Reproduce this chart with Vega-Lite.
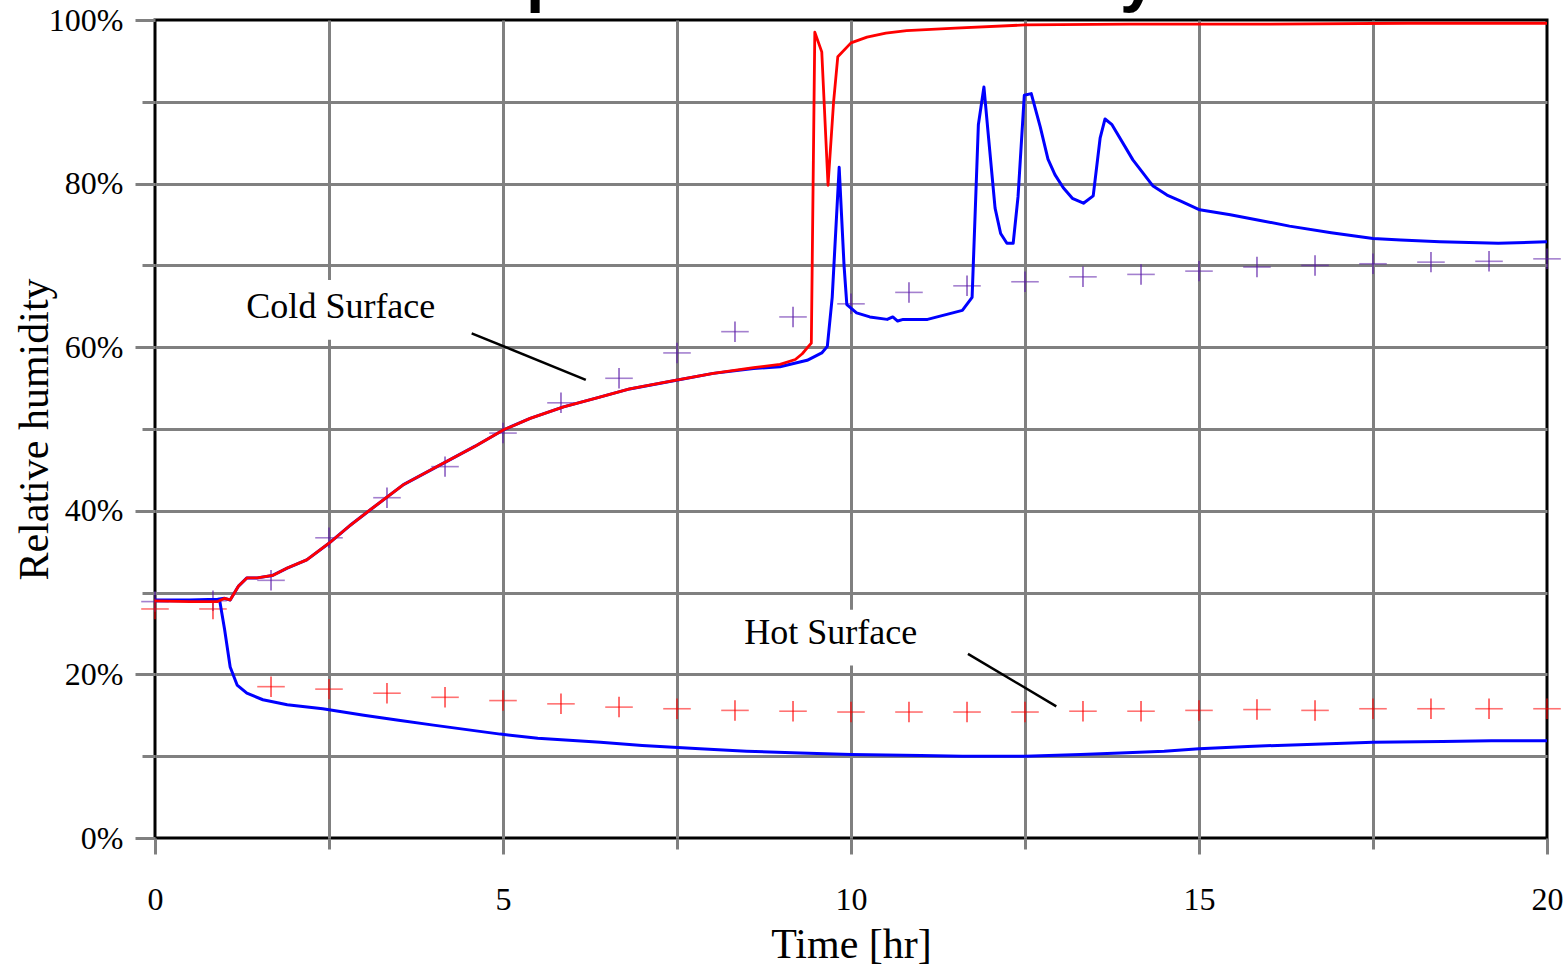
{
  "$schema": "https://vega.github.io/schema/vega-lite/v6.json",
  "autosize": {"type": "none"},
  "width": 1392,
  "height": 818,
  "padding": {"left": 155, "top": 20, "right": 17, "bottom": 129},
  "background": "white",
  "config": {
    "view": {"stroke": "black", "strokeWidth": 3},
    "axis": {
      "domain": false,
      "grid": true,
      "gridColor": "#808080",
      "gridWidth": 3,
      "tickColor": "#808080",
      "tickWidth": 3,
      "labelFlush": false,
      "labelFont": "Liberation Serif",
      "labelFontSize": 32,
      "labelColor": "black",
      "titleFont": "Liberation Serif",
      "titleFontSize": 42,
      "titleFontWeight": "normal",
      "titleColor": "black"
    }
  },
  "datasets": {
    "sim": [
      {"series": "Cold blue", "t": 0, "rh": 29.1}, {"series": "Cold blue", "t": 0.5, "rh": 29.1}, {"series": "Cold blue", "t": 0.9, "rh": 29.2}, {"series": "Cold blue", "t": 1.0, "rh": 29.3}, {"series": "Cold blue", "t": 1.08, "rh": 29.1}, {"series": "Cold blue", "t": 1.2, "rh": 30.8}, {"series": "Cold blue", "t": 1.32, "rh": 31.8}, {"series": "Cold blue", "t": 1.47, "rh": 31.8}, {"series": "Cold blue", "t": 1.69, "rh": 32.1}, {"series": "Cold blue", "t": 1.9, "rh": 33.0}, {"series": "Cold blue", "t": 2.18, "rh": 34.0}, {"series": "Cold blue", "t": 2.51, "rh": 36.1}, {"series": "Cold blue", "t": 2.8, "rh": 38.2}, {"series": "Cold blue", "t": 3.09, "rh": 40.1}, {"series": "Cold blue", "t": 3.57, "rh": 43.2}, {"series": "Cold blue", "t": 4.14, "rh": 45.8}, {"series": "Cold blue", "t": 4.6, "rh": 47.9}, {"series": "Cold blue", "t": 5.01, "rh": 49.9}, {"series": "Cold blue", "t": 5.39, "rh": 51.3}, {"series": "Cold blue", "t": 5.87, "rh": 52.7}, {"series": "Cold blue", "t": 6.35, "rh": 53.8}, {"series": "Cold blue", "t": 6.82, "rh": 54.9}, {"series": "Cold blue", "t": 7.51, "rh": 56.0}, {"series": "Cold blue", "t": 8.02, "rh": 56.8}, {"series": "Cold blue", "t": 8.6, "rh": 57.4}, {"series": "Cold blue", "t": 8.98, "rh": 57.6}, {"series": "Cold blue", "t": 9.37, "rh": 58.4}, {"series": "Cold blue", "t": 9.58, "rh": 59.3}, {"series": "Cold blue", "t": 9.66, "rh": 60.1}, {"series": "Cold blue", "t": 9.73, "rh": 66.1}, {"series": "Cold blue", "t": 9.83, "rh": 82.0}, {"series": "Cold blue", "t": 9.9, "rh": 70.0}, {"series": "Cold blue", "t": 9.94, "rh": 65.2}, {"series": "Cold blue", "t": 10.08, "rh": 64.2}, {"series": "Cold blue", "t": 10.27, "rh": 63.7}, {"series": "Cold blue", "t": 10.52, "rh": 63.4}, {"series": "Cold blue", "t": 10.6, "rh": 63.7}, {"series": "Cold blue", "t": 10.67, "rh": 63.2}, {"series": "Cold blue", "t": 10.75, "rh": 63.4}, {"series": "Cold blue", "t": 11.1, "rh": 63.4}, {"series": "Cold blue", "t": 11.6, "rh": 64.5}, {"series": "Cold blue", "t": 11.74, "rh": 66.1}, {"series": "Cold blue", "t": 11.83, "rh": 87.2}, {"series": "Cold blue", "t": 11.91, "rh": 91.8}, {"series": "Cold blue", "t": 11.97, "rh": 86.2}, {"series": "Cold blue", "t": 12.07, "rh": 77.0}, {"series": "Cold blue", "t": 12.15, "rh": 73.9}, {"series": "Cold blue", "t": 12.24, "rh": 72.7}, {"series": "Cold blue", "t": 12.33, "rh": 72.7}, {"series": "Cold blue", "t": 12.4, "rh": 78.4}, {"series": "Cold blue", "t": 12.49, "rh": 90.8}, {"series": "Cold blue", "t": 12.59, "rh": 91.0}, {"series": "Cold blue", "t": 12.72, "rh": 86.9}, {"series": "Cold blue", "t": 12.83, "rh": 83.0}, {"series": "Cold blue", "t": 12.93, "rh": 81.1}, {"series": "Cold blue", "t": 13.05, "rh": 79.5}, {"series": "Cold blue", "t": 13.18, "rh": 78.2}, {"series": "Cold blue", "t": 13.34, "rh": 77.6}, {"series": "Cold blue", "t": 13.48, "rh": 78.5}, {"series": "Cold blue", "t": 13.58, "rh": 85.6}, {"series": "Cold blue", "t": 13.65, "rh": 87.9}, {"series": "Cold blue", "t": 13.75, "rh": 87.2}, {"series": "Cold blue", "t": 14.05, "rh": 82.9}, {"series": "Cold blue", "t": 14.34, "rh": 79.7}, {"series": "Cold blue", "t": 14.54, "rh": 78.6}, {"series": "Cold blue", "t": 14.73, "rh": 77.9}, {"series": "Cold blue", "t": 15.01, "rh": 76.8}, {"series": "Cold blue", "t": 15.45, "rh": 76.2}, {"series": "Cold blue", "t": 15.88, "rh": 75.5}, {"series": "Cold blue", "t": 16.3, "rh": 74.8}, {"series": "Cold blue", "t": 16.9, "rh": 74.0}, {"series": "Cold blue", "t": 17.5, "rh": 73.3}, {"series": "Cold blue", "t": 17.9, "rh": 73.1}, {"series": "Cold blue", "t": 18.46, "rh": 72.9}, {"series": "Cold blue", "t": 19.3, "rh": 72.7}, {"series": "Cold blue", "t": 20, "rh": 72.9},
      {"series": "Hot blue", "t": 0, "rh": 29.0}, {"series": "Hot blue", "t": 0.5, "rh": 29.0}, {"series": "Hot blue", "t": 0.93, "rh": 29.0}, {"series": "Hot blue", "t": 1.0, "rh": 25.5}, {"series": "Hot blue", "t": 1.08, "rh": 20.9}, {"series": "Hot blue", "t": 1.18, "rh": 18.7}, {"series": "Hot blue", "t": 1.32, "rh": 17.7}, {"series": "Hot blue", "t": 1.55, "rh": 16.9}, {"series": "Hot blue", "t": 1.9, "rh": 16.3}, {"series": "Hot blue", "t": 2.41, "rh": 15.8}, {"series": "Hot blue", "t": 3.0, "rh": 15.0}, {"series": "Hot blue", "t": 3.5, "rh": 14.4}, {"series": "Hot blue", "t": 4.0, "rh": 13.8}, {"series": "Hot blue", "t": 4.96, "rh": 12.7}, {"series": "Hot blue", "t": 5.5, "rh": 12.2}, {"series": "Hot blue", "t": 6.4, "rh": 11.7}, {"series": "Hot blue", "t": 7.0, "rh": 11.3}, {"series": "Hot blue", "t": 7.83, "rh": 10.9}, {"series": "Hot blue", "t": 8.5, "rh": 10.6}, {"series": "Hot blue", "t": 9.27, "rh": 10.4}, {"series": "Hot blue", "t": 10, "rh": 10.2}, {"series": "Hot blue", "t": 11, "rh": 10.1}, {"series": "Hot blue", "t": 11.6, "rh": 10.0}, {"series": "Hot blue", "t": 12.5, "rh": 10.0}, {"series": "Hot blue", "t": 13.3, "rh": 10.2}, {"series": "Hot blue", "t": 13.87, "rh": 10.4}, {"series": "Hot blue", "t": 14.5, "rh": 10.6}, {"series": "Hot blue", "t": 15, "rh": 10.9}, {"series": "Hot blue", "t": 15.7, "rh": 11.2}, {"series": "Hot blue", "t": 16.45, "rh": 11.4}, {"series": "Hot blue", "t": 17.5, "rh": 11.7}, {"series": "Hot blue", "t": 18.5, "rh": 11.8}, {"series": "Hot blue", "t": 19.2, "rh": 11.9}, {"series": "Hot blue", "t": 20, "rh": 11.9},
      {"series": "Cold red", "t": 0, "rh": 29.0}, {"series": "Cold red", "t": 0.5, "rh": 28.9}, {"series": "Cold red", "t": 0.9, "rh": 28.9}, {"series": "Cold red", "t": 1.0, "rh": 29.3}, {"series": "Cold red", "t": 1.08, "rh": 29.1}, {"series": "Cold red", "t": 1.2, "rh": 30.8}, {"series": "Cold red", "t": 1.32, "rh": 31.8}, {"series": "Cold red", "t": 1.47, "rh": 31.8}, {"series": "Cold red", "t": 1.69, "rh": 32.1}, {"series": "Cold red", "t": 1.9, "rh": 33.0}, {"series": "Cold red", "t": 2.18, "rh": 34.0}, {"series": "Cold red", "t": 2.51, "rh": 36.1}, {"series": "Cold red", "t": 2.8, "rh": 38.2}, {"series": "Cold red", "t": 3.09, "rh": 40.1}, {"series": "Cold red", "t": 3.57, "rh": 43.2}, {"series": "Cold red", "t": 4.14, "rh": 45.8}, {"series": "Cold red", "t": 4.6, "rh": 47.9}, {"series": "Cold red", "t": 5.01, "rh": 49.9}, {"series": "Cold red", "t": 5.39, "rh": 51.3}, {"series": "Cold red", "t": 5.87, "rh": 52.7}, {"series": "Cold red", "t": 6.35, "rh": 53.8}, {"series": "Cold red", "t": 6.82, "rh": 54.9}, {"series": "Cold red", "t": 7.51, "rh": 56.0}, {"series": "Cold red", "t": 8.02, "rh": 56.8}, {"series": "Cold red", "t": 8.6, "rh": 57.5}, {"series": "Cold red", "t": 8.98, "rh": 57.9}, {"series": "Cold red", "t": 9.2, "rh": 58.5}, {"series": "Cold red", "t": 9.3, "rh": 59.2}, {"series": "Cold red", "t": 9.38, "rh": 60.0}, {"series": "Cold red", "t": 9.43, "rh": 60.5}, {"series": "Cold red", "t": 9.48, "rh": 98.5}, {"series": "Cold red", "t": 9.58, "rh": 96.1}, {"series": "Cold red", "t": 9.67, "rh": 79.8}, {"series": "Cold red", "t": 9.75, "rh": 90.0}, {"series": "Cold red", "t": 9.81, "rh": 95.5}, {"series": "Cold red", "t": 10.0, "rh": 97.2}, {"series": "Cold red", "t": 10.23, "rh": 97.9}, {"series": "Cold red", "t": 10.5, "rh": 98.4}, {"series": "Cold red", "t": 10.8, "rh": 98.7}, {"series": "Cold red", "t": 11.5, "rh": 99.0}, {"series": "Cold red", "t": 12.5, "rh": 99.4}, {"series": "Cold red", "t": 14, "rh": 99.5}, {"series": "Cold red", "t": 16, "rh": 99.5}, {"series": "Cold red", "t": 18, "rh": 99.6}, {"series": "Cold red", "t": 20, "rh": 99.6}
    ],
    "meas": [
      {"surface": "Cold", "t": 0, "rh": 28.9}, {"surface": "Cold", "t": 0.833, "rh": 29.0}, {"surface": "Cold", "t": 1.667, "rh": 31.5}, {"surface": "Cold", "t": 2.5, "rh": 36.7}, {"surface": "Cold", "t": 3.333, "rh": 41.6}, {"surface": "Cold", "t": 4.167, "rh": 45.4}, {"surface": "Cold", "t": 5.0, "rh": 49.5}, {"surface": "Cold", "t": 5.833, "rh": 53.2}, {"surface": "Cold", "t": 6.667, "rh": 56.2}, {"surface": "Cold", "t": 7.5, "rh": 59.3}, {"surface": "Cold", "t": 8.333, "rh": 61.9}, {"surface": "Cold", "t": 9.167, "rh": 63.7}, {"surface": "Cold", "t": 10.0, "rh": 65.3}, {"surface": "Cold", "t": 10.833, "rh": 66.7}, {"surface": "Cold", "t": 11.667, "rh": 67.5}, {"surface": "Cold", "t": 12.5, "rh": 68.0}, {"surface": "Cold", "t": 13.333, "rh": 68.6}, {"surface": "Cold", "t": 14.167, "rh": 68.9}, {"surface": "Cold", "t": 15.0, "rh": 69.3}, {"surface": "Cold", "t": 15.833, "rh": 69.8}, {"surface": "Cold", "t": 16.667, "rh": 70.0}, {"surface": "Cold", "t": 17.5, "rh": 70.2}, {"surface": "Cold", "t": 18.333, "rh": 70.4}, {"surface": "Cold", "t": 19.167, "rh": 70.5}, {"surface": "Cold", "t": 20.0, "rh": 70.8},
      {"surface": "Hot", "t": 0, "rh": 28.0}, {"surface": "Hot", "t": 0.833, "rh": 28.0}, {"surface": "Hot", "t": 1.667, "rh": 18.5}, {"surface": "Hot", "t": 2.5, "rh": 18.2}, {"surface": "Hot", "t": 3.333, "rh": 17.7}, {"surface": "Hot", "t": 4.167, "rh": 17.2}, {"surface": "Hot", "t": 5.0, "rh": 16.8}, {"surface": "Hot", "t": 5.833, "rh": 16.4}, {"surface": "Hot", "t": 6.667, "rh": 16.0}, {"surface": "Hot", "t": 7.5, "rh": 15.8}, {"surface": "Hot", "t": 8.333, "rh": 15.6}, {"surface": "Hot", "t": 9.167, "rh": 15.5}, {"surface": "Hot", "t": 10.0, "rh": 15.4}, {"surface": "Hot", "t": 10.833, "rh": 15.4}, {"surface": "Hot", "t": 11.667, "rh": 15.4}, {"surface": "Hot", "t": 12.5, "rh": 15.4}, {"surface": "Hot", "t": 13.333, "rh": 15.5}, {"surface": "Hot", "t": 14.167, "rh": 15.5}, {"surface": "Hot", "t": 15.0, "rh": 15.6}, {"surface": "Hot", "t": 15.833, "rh": 15.7}, {"surface": "Hot", "t": 16.667, "rh": 15.6}, {"surface": "Hot", "t": 17.5, "rh": 15.8}, {"surface": "Hot", "t": 18.333, "rh": 15.8}, {"surface": "Hot", "t": 19.167, "rh": 15.8}, {"surface": "Hot", "t": 20.0, "rh": 15.8}
    ],
    "notes": [
      {"label": "Cold Surface", "t": 2.67, "rh": 64.9, "bx1": 1.22, "bx2": 4.17, "by1": 60.9, "by2": 68.2, "lx1": 4.55, "ly1": 61.7, "lx2": 6.19, "ly2": 56.0},
      {"label": "Hot Surface", "t": 9.71, "rh": 25.1, "bx1": 8.33, "bx2": 11.06, "by1": 21.1, "by2": 27.9, "lx1": 11.68, "ly1": 22.5, "lx2": 12.95, "ly2": 16.1}
    ],
    "heading": [
      {"label": "Temperature & Humidity", "t": 3.45, "rh": 102.6}
    ]
  },
  "layer": [
    {
      "data": {"name": "notes"},
      "mark": {"type": "rect", "fill": "white", "stroke": null},
      "encoding": {
        "x": {"field": "bx1", "type": "quantitative", "scale": {"domain": [0, 20], "nice": false, "zero": false},
          "axis": {"values": [0, 2.5, 5, 7.5, 10, 12.5, 15, 17.5, 20], "labelExpr": "datum.value % 5 === 0 ? format(datum.value, 'd') : ''", "tickSize": {"condition": {"test": "datum.value % 5 === 0", "value": 16}, "value": 11}, "labelPadding": 30, "title": "Time [hr]", "titlePadding": 9,
            "gridOpacity": {"condition": {"test": "datum.value === 0 || datum.value === 20", "value": 0}, "value": 1}}},
        "x2": {"field": "bx2"},
        "y": {"field": "by1", "type": "quantitative", "scale": {"domain": [0, 100], "nice": false, "zero": false},
          "axis": {"values": [0, 10, 20, 30, 40, 50, 60, 70, 80, 90, 100], "labelExpr": "datum.value % 20 === 0 ? datum.value + '%' : ''", "tickSize": {"condition": {"test": "datum.value % 20 === 0", "value": 20}, "value": 13}, "labelPadding": 12, "title": "Relative humidity", "titlePadding": -8,
            "gridOpacity": {"condition": {"test": "datum.value === 0 || datum.value === 100", "value": 0}, "value": 1}}},
        "y2": {"field": "by2"}
      }
    },
    {
      "data": {"name": "notes"},
      "mark": {"type": "rule", "color": "black", "strokeWidth": 2.5},
      "encoding": {
        "x": {"field": "lx1", "type": "quantitative"},
        "x2": {"field": "lx2"},
        "y": {"field": "ly1", "type": "quantitative"},
        "y2": {"field": "ly2"}
      }
    },
    {
      "data": {"name": "notes"},
      "mark": {"type": "text", "font": "Liberation Serif", "fontSize": 36, "color": "black", "align": "center", "baseline": "middle"},
      "encoding": {
        "x": {"field": "t", "type": "quantitative"},
        "y": {"field": "rh", "type": "quantitative"},
        "text": {"field": "label"}
      }
    },
    {
      "data": {"name": "heading"},
      "mark": {"type": "text", "font": "Liberation Sans", "fontSize": 66, "fontWeight": "bold", "color": "black", "align": "left", "baseline": "alphabetic", "clip": false},
      "encoding": {
        "x": {"field": "t", "type": "quantitative"},
        "y": {"field": "rh", "type": "quantitative"},
        "text": {"field": "label"}
      }
    },
    {
      "data": {"name": "meas"},
      "mark": {"type": "point", "shape": "M-1,0H1", "filled": false, "size": 760, "strokeWidth": 1.6, "opacity": 0.55},
      "encoding": {
        "x": {"field": "t", "type": "quantitative"},
        "y": {"field": "rh", "type": "quantitative"},
        "color": {"field": "surface", "type": "nominal", "scale": {"domain": ["Cold", "Hot"], "range": ["#5a1aa8", "#ff0000"]}, "legend": null}
      }
    },
    {
      "data": {"name": "meas"},
      "mark": {"type": "point", "shape": "M0,-1V1", "filled": false, "size": 420, "strokeWidth": 1.6},
      "encoding": {
        "x": {"field": "t", "type": "quantitative"},
        "y": {"field": "rh", "type": "quantitative"},
        "color": {"field": "surface", "type": "nominal", "scale": {"domain": ["Cold", "Hot"], "range": ["#5a1aa8", "#ff0000"]}, "legend": null}
      }
    },
    {
      "data": {"name": "sim"},
      "transform": [{"filter": "datum.series !== 'Cold red'"}],
      "mark": {"type": "line", "color": "#0000ff", "strokeWidth": 3, "strokeJoin": "round"},
      "encoding": {
        "x": {"field": "t", "type": "quantitative"},
        "y": {"field": "rh", "type": "quantitative"},
        "detail": {"field": "series", "type": "nominal"}
      }
    },
    {
      "data": {"name": "sim"},
      "transform": [{"filter": "datum.series === 'Cold red'"}],
      "mark": {"type": "line", "color": "#ff0000", "strokeWidth": 2.8, "strokeJoin": "round"},
      "encoding": {
        "x": {"field": "t", "type": "quantitative"},
        "y": {"field": "rh", "type": "quantitative"}
      }
    }
  ]
}
